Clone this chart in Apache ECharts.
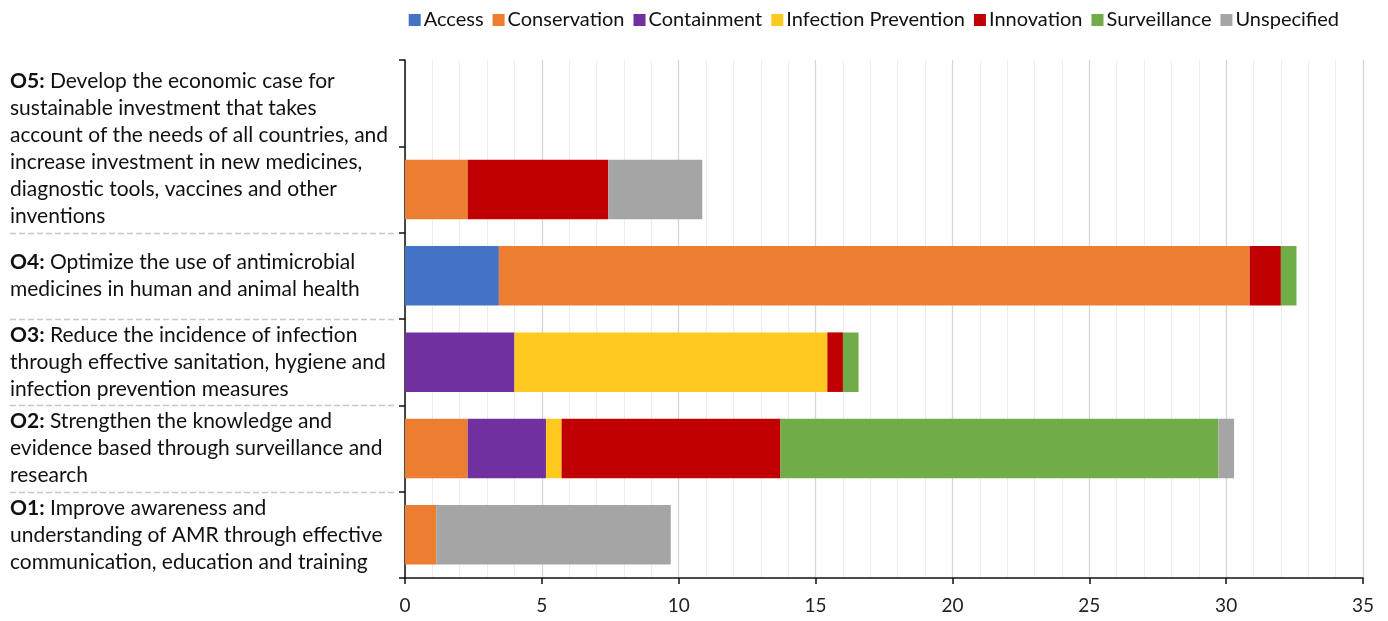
<!DOCTYPE html>
<html>
<head>
<meta charset="utf-8">
<script src="https://cdn.jsdelivr.net/npm/echarts@6/dist/echarts.min.js"></script>
<style>
html,body{margin:0;padding:0;background:#fff;}
#chart{width:1388px;height:621px;}
</style>
</head>
<body>
<div id="chart"></div>
<script>
// Categories from bottom to top (top one is an empty slot)
const categories = ['O1', 'O2', 'O3', 'O4', 'O5', ''];

const labelLines = {
  O1: ['Improve awareness and', 'understanding of AMR through effective', 'communication, education and training'],
  O2: ['Strengthen the knowledge and', 'evidence based through surveillance and', 'research'],
  O3: ['Reduce the incidence of infection', 'through effective sanitation, hygiene and', 'infection prevention measures'],
  O4: ['Optimize the use of antimicrobial', 'medicines in human and animal health'],
  O5: ['Develop the economic case for', 'sustainable investment that takes', 'account of the needs of all countries, and', 'increase investment in new medicines,', 'diagnostic tools, vaccines and other', 'inventions']
};

const seriesNames = ['Access', 'Conservation', 'Containment', 'Infection Prevention', 'Innovation', 'Surveillance', 'Unspecified'];
const access              = [0,    0,     0,     3.43,  0,    null];
const conservation        = [1.14, 2.29,  0,     27.43, 2.29, null];
const containment         = [0,    2.86,  4.00,  0,     0,    null];
const infectionPrevention = [0,    0.57,  11.43, 0,     0,    null];
const innovation          = [0,    8.00,  0.57,  1.14,  5.14, null];
const surveillance        = [0,    16.00, 0.57,  0.57,  0,    null];
const unspecified         = [8.57, 0.57,  0,     0,     3.43, null];

const xTicks = [0, 5, 10, 15, 20, 25, 30, 35];

const colors = ['#4472C4', '#ED7D31', '#7030A0', '#FFC91F', '#C00000', '#70AD47', '#A5A5A5'];
const seriesData = [access, conservation, containment, infectionPrevention, innovation, surveillance, unspecified];

const FONT = 'Lato, "Open Sans", sans-serif';

const chart = echarts.init(document.getElementById('chart'));

function yLabel(value) {
  const lines = labelLines[value];
  if (!lines) return '';
  let s = '{b|' + value + ':}{n| ' + lines[0] + '}';
  for (let i = 1; i < lines.length; i++) s += '\n{n|' + lines[i] + '}';
  if (value === 'O5') s += '\n{n| }\n{n| }\n{n| }';
  return s;
}

chart.setOption({
  animation: false,
  color: colors,
  textStyle: { fontFamily: FONT },
  legend: {
    top: 5,
    right: 44,
    icon: 'rect',
    itemWidth: 12,
    itemHeight: 12,
    itemGap: 9,
    textStyle: { fontSize: 20, color: '#111', fontFamily: FONT, padding: [0, 0, 0, -2] },
    data: seriesNames
  },
  grid: { left: 405, right: 25, top: 60, bottom: 43, containLabel: false },
  xAxis: {
    type: 'value',
    min: xTicks[0],
    max: xTicks[xTicks.length - 1],
    interval: 5,
    axisLine: { show: true, lineStyle: { color: '#111', width: 1.5 } },
    axisTick: { show: true, length: 6, lineStyle: { color: '#111', width: 1.5 } },
    axisLabel: { fontSize: 19, color: '#222', margin: 18, fontFamily: FONT },
    splitLine: { show: true, lineStyle: { color: '#d6d6d6', width: 1.3 } },
    minorTick: { show: false, splitNumber: 5 },
    minorSplitLine: { show: true, lineStyle: { color: '#ececec', width: 1 } }
  },
  yAxis: {
    type: 'category',
    data: categories,
    axisLine: { show: true, lineStyle: { color: '#111', width: 1.5 } },
    axisTick: { show: true, length: 6, lineStyle: { color: '#111', width: 1.5 } },
    axisLabel: {
      align: 'left',
      margin: 395,
      formatter: yLabel,
      rich: {
        b: { fontWeight: 'bold', fontSize: 21, lineHeight: 27, color: '#111', fontFamily: FONT },
        n: { fontSize: 21, lineHeight: 27, color: '#111', fontFamily: FONT }
      }
    },
    splitLine: { show: false }
  },
  series: seriesNames.map((name, i) => ({
    name: name,
    type: 'bar',
    stack: 'total',
    barCategoryGap: '31%',
    data: seriesData[i],
    itemStyle: { color: colors[i] }
  }))
});

// Dashed separators between the objective labels
const centers = categories.map((c, i) => chart.convertToPixel({ yAxisIndex: 0 }, i));
const seps = [];
for (let i = 0; i < 4; i++) {
  const y = Math.round((centers[i] + centers[i + 1]) / 2) + 0.5;
  seps.push({
    type: 'line',
    shape: { x1: 10, y1: y, x2: 396, y2: y },
    style: { stroke: '#c8c8c8', lineWidth: 1.5, lineDash: [6, 3] },
    silent: true
  });
}
chart.setOption({ graphic: seps });
</script>
</body>
</html>
